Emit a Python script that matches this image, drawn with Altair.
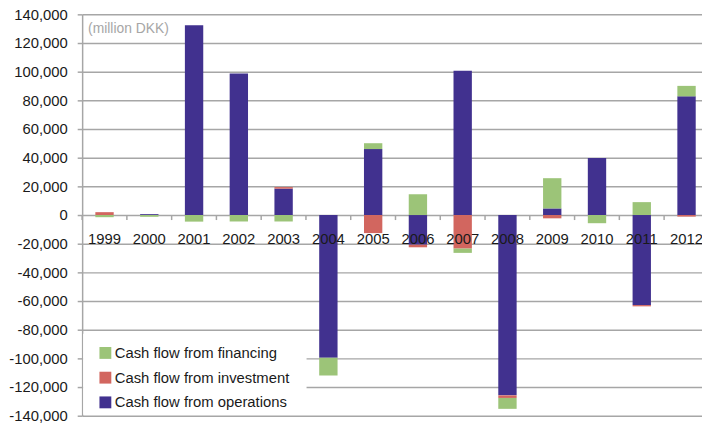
import altair as alt
import pandas as pd

years = ["1999", "2000", "2001", "2002", "2003", "2004", "2005",
         "2006", "2007", "2008", "2009", "2010", "2011", "2012"]
operations = [0, 600, 132400, 98800, 18400, -99500, 46000,
              -20700, 100700, -125800, 4600, 39800, -62800, 82800]
investment = [2000, 0, 0, 0, 1100, 0, -12600,
              -1800, -23400, -1800, -2300, 0, -900, -1100]
financing = [-1500, -1200, -4600, -4500, -4500, -12400, 4100,
             14500, -3000, -7600, 21100, -5700, 9000, 7300]

series_names = ["Cash flow from financing", "Cash flow from investment", "Cash flow from operations"]
series_colors = ["#9CC478", "#D2665F", "#41318F"]
stack_order = {"Cash flow from operations": 0, "Cash flow from investment": 1, "Cash flow from financing": 2}

rows = []
for i, y in enumerate(years):
    for name, vals in (("Cash flow from operations", operations),
                       ("Cash flow from investment", investment),
                       ("Cash flow from financing", financing)):
        rows.append({"year": y, "series": name, "value": vals[i], "order": stack_order[name]})
df = pd.DataFrame(rows)
years_df = pd.DataFrame({"year": years})
y_ticks = list(range(-140000, 140001, 20000))

FONT = "Liberation Sans, Arial, sans-serif"
GRID = "#a6a6a6"
FS = 15

xscale = alt.Scale(domain=years, range=[0, 634], paddingInner=0.59, paddingOuter=0.295)
yscale = alt.Scale(domain=[-140000, 140000], nice=False, zero=False)

xaxis = alt.Axis(title=None, orient="bottom", offset=-203, domain=False, ticks=False,
                 tickSize=0, labelPadding=17, labelAngle=0, labelFontSize=FS,
                 labelFont=FONT, labelColor="#1a1a1a", grid=False, zindex=1,
                 labelOverlap=False, labelBound=False)
yaxis = alt.Axis(title=None, values=y_ticks, tickCount=15,
                 labelExpr="(datum.value < 0 ? '-' : '') + format(abs(datum.value), ',')",
                 labelFontSize=FS, labelFont=FONT, labelColor="#1a1a1a",
                 labelPadding=10, tickSize=5, tickColor=GRID, tickWidth=1.5,
                 domainColor=GRID, domainWidth=1.5, labelOverlap=False, labelFlush=False,
                 labelBound=False, grid=True, gridColor=GRID, gridWidth=1.5)

bars = alt.Chart(df).mark_bar().encode(
    x=alt.X("year:N", scale=xscale, sort=years, axis=xaxis),
    y=alt.Y("value:Q", scale=yscale, stack="zero", axis=yaxis),
    color=alt.Color("series:N",
                    scale=alt.Scale(domain=series_names, range=series_colors),
                    legend=alt.Legend(title=None, orient="none", legendX=16, legendY=335,
                                      symbolType="square", symbolSize=144, symbolStrokeWidth=0,
                                      labelFontSize=FS, labelFont=FONT, labelColor="#1a1a1a",
                                      labelOffset=2, rowPadding=9, padding=0, labelLimit=400)),
    order=alt.Order("order:Q", sort="ascending"),
)

mask = alt.Chart(pd.DataFrame({"a": [0]})).mark_rect(fill="white").encode(
    x=alt.value(1), x2=alt.value(227), y=alt.value(323), y2=alt.value(405)
)

ticks = alt.Chart(years_df).mark_rule(color=GRID, strokeWidth=1.5, xOffset=-13.4).encode(
    x=alt.X("year:N", sort=years, bandPosition=0, axis=xaxis),
    y=alt.Y(datum=0, axis=yaxis),
    y2=alt.Y2(datum=-3500),
)

note = alt.Chart(pd.DataFrame({"t": ["(million DKK)"]})).mark_text(
    align="left", baseline="alphabetic", font=FONT, fontSize=14, color="#a6a6a6"
).encode(x=alt.value(6), y=alt.value(18.5), text="t:N")

chart = alt.layer(bars, mask, ticks, note).properties(
    width=627, height=406,
    autosize=alt.AutoSizeParams(type="none"),
    padding={"left": 75, "top": 4, "right": 0, "bottom": 10},
).configure_view(stroke=None).configure_axisY(labelOverlap=False)

chart.save("out.html", embed_options={"renderer": "svg", "actions": False})
